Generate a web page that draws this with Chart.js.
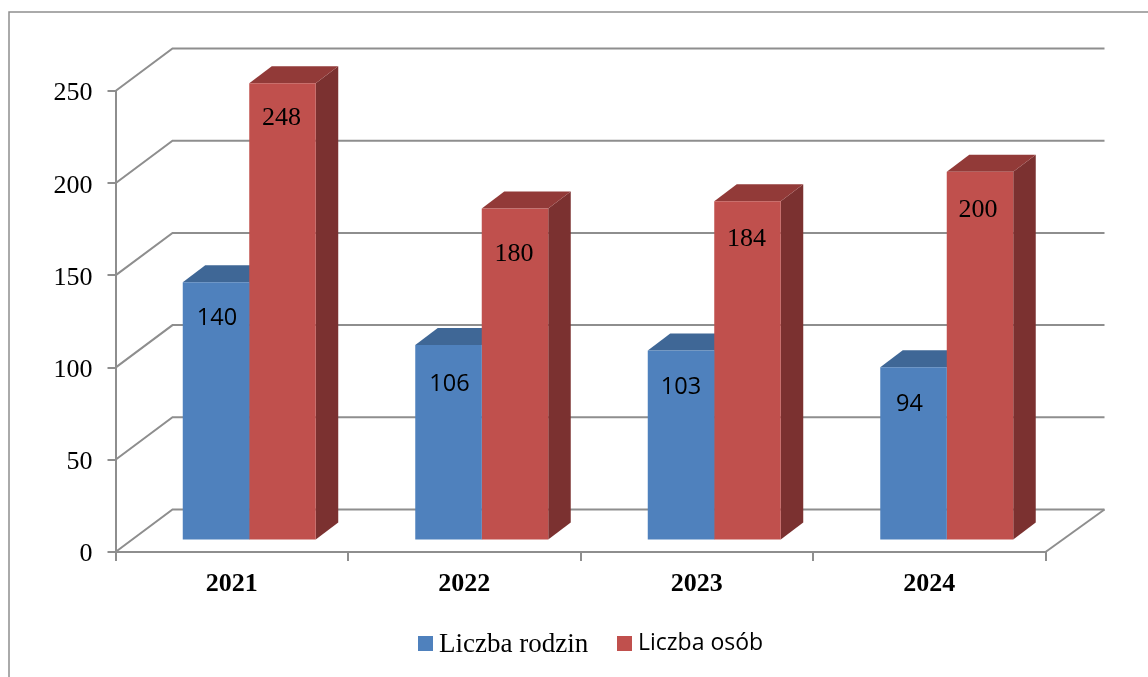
<!DOCTYPE html>
<html>
<head>
<meta charset="utf-8">
<title>Liczba rodzin i osób</title>
<script src="https://cdn.jsdelivr.net/npm/chart.js@4/dist/chart.umd.min.js"></script>
<style>
  html, body { margin: 0; padding: 0; background: #fff; overflow: hidden; }
  canvas { display: block; }
</style>
</head>
<body>
<canvas id="myChart" width="1148" height="677"></canvas>
<script>
// dane
const lata = ["2021", "2022", "2023", "2024"];
const liczbaRodzin = [140, 106, 103, 94];
const liczbaOsob = [248, 180, 184, 200];
const tickiY = [0, 50, 100, 150, 200, 250];

const SERIF = "'Liberation Serif', serif";
const SANS = "'Open Sans', sans-serif";
const szary = "#8e8e8e";

// przesuniecia "3D"
const sciana = { dx: 57, dy: 42.5 };
const slupek = { dx: 17.5, dy: 11.5, bokX: 22.5, bokY: 17 };

// kolory i czcionki kazdej serii (w oryginale etykiety i legenda maja rozne czcionki)
const wyglad = [
  { przod: "#4f81bd", bok: "#3a5f8c", gora: "#3f6796", etykieta: "23.5px " + SANS, legenda: "27px " + SERIF },
  { przod: "#c0504d", bok: "#7b3130", gora: "#923a38", etykieta: "26px " + SERIF, legenda: "23px " + SANS },
];
// gdzie stoi etykieta wzgledem gory slupka (jak w oryginale)
const etykietaX = [[1, 1, 0, -4], [-1, -1, -1, -2]];
const etykietaY = [[36, 39, 37, 37], [35, 46, 38, 38]];

function linia(ctx, punkty) {
  ctx.beginPath();
  punkty.forEach((p, i) => (i == 0 ? ctx.moveTo(p[0], p[1]) : ctx.lineTo(p[0], p[1])));
  ctx.stroke();
}

function wielokat(ctx, punkty, kolor) {
  ctx.fillStyle = kolor;
  ctx.beginPath();
  punkty.forEach((p, i) => (i == 0 ? ctx.moveTo(p[0], p[1]) : ctx.lineTo(p[0], p[1])));
  ctx.closePath();
  ctx.fill();
}

// opisy osi Y stoja troche nizej niz srodek kreski
function przesunOpisy(s, o) {
  if (s.przesuniete) return;
  s.przesuniete = true;
  const rysuj = s.drawLabels;
  s.drawLabels = function (a) {
    this.ctx.save();
    this.ctx.translate(0, o);
    rysuj.call(this, a);
    this.ctx.restore();
  };
}

const ramka3d = {
  id: "ramka3d",
  beforeDraw(chart) {
    const ctx = chart.ctx;
    const y = chart.scales.y;
    const a = chart.chartArea;
    ctx.save();
    ctx.strokeStyle = szary;
    // ramka calego wykresu
    ctx.lineWidth = 1.5;
    linia(ctx, [[9, 677], [9, 12], [1148, 12]]);
    // linie siatki na tylnej scianie i na boku
    ctx.lineWidth = 2;
    tickiY.forEach((t) => {
      const py = y.getPixelForValue(t);
      linia(ctx, [[a.left, py], [a.left + sciana.dx, py - sciana.dy], [a.right + sciana.dx + 2, py - sciana.dy]]);
    });
    // podloga
    const y0 = y.getPixelForValue(0);
    linia(ctx, [[a.right + sciana.dx + 2, y0 - sciana.dy], [a.right, y0]]);
    ctx.restore();
  },
  beforeDatasetsDraw(chart) {
    const ctx = chart.ctx;
    // boki i gory rysowane pod przodem slupkow
    ctx.save();
    ctx.translate(slupek.dx, -slupek.dy);
    chart.data.datasets.forEach((ds, i) => {
      chart.getDatasetMeta(i).data.forEach((bar) => {
        const l = bar.x - bar.width / 2;
        const r = bar.x + bar.width / 2;
        const bx = slupek.bokX;
        const by = slupek.bokY;
        wielokat(ctx, [[r, bar.y], [r + bx, bar.y - by], [r + bx, bar.base - by], [r, bar.base]], wyglad[i].bok);
        wielokat(ctx, [[l, bar.y], [l + bx, bar.y - by], [r + bx, bar.y - by], [r, bar.y]], wyglad[i].gora);
      });
    });
  },
  afterDatasetsDraw(chart) {
    const ctx = chart.ctx;
    ctx.textAlign = "center";
    ctx.textBaseline = "middle";
    ctx.fillStyle = "#000";
    chart.data.datasets.forEach((ds, i) => {
      ctx.font = wyglad[i].etykieta;
      chart.getDatasetMeta(i).data.forEach((bar, j) => {
        ctx.fillText(ds.data[j], bar.x + etykietaX[i][j], bar.y + etykietaY[i][j]);
      });
    });
    ctx.restore();
  },
  afterDraw(chart) {
    // legenda: kazda pozycja ma inna czcionke, wiec rysowana tutaj
    const ctx = chart.ctx;
    const pozycje = [418, 617];
    ctx.save();
    ctx.textAlign = "left";
    ctx.textBaseline = "middle";
    chart.data.datasets.forEach((ds, i) => {
      ctx.fillStyle = wyglad[i].przod;
      ctx.fillRect(pozycje[i], 636, 15, 15);
      ctx.fillStyle = "#000";
      ctx.font = wyglad[i].legenda;
      ctx.fillText(ds.label, pozycje[i] + 21, i == 0 ? 645 : 643);
    });
    ctx.restore();
  },
};

let ctx = document.getElementById("myChart");
let grafico = new Chart(ctx, {
  type: "bar",
  data: {
    labels: lata,
    datasets: [
      { label: "Liczba rodzin", data: liczbaRodzin, backgroundColor: wyglad[0].przod, clip: false },
      { label: "Liczba osób", data: liczbaOsob, backgroundColor: wyglad[1].przod, clip: false },
    ],
  },
  plugins: [ramka3d],
  options: {
    responsive: false,
    animation: false,
    categoryPercentage: 0.572,
    barPercentage: 1,
    layout: { padding: { top: 91, right: 102.5, left: 0, bottom: 0 } },
    plugins: { legend: { display: false }, tooltip: { enabled: false } },
    scales: {
      x: {
        afterFit(s) { s.height = 125; },
        border: { color: szary, width: 2 },
        grid: { drawOnChartArea: false, color: szary, lineWidth: 2, tickLength: 9 },
        ticks: { color: "#000", font: { family: SERIF, size: 26, weight: "bold" }, padding: 8, maxRotation: 0 },
      },
      y: {
        min: 0,
        max: 250,
        afterFit(s) { s.width = 115.5; przesunOpisy(s, 2.5); },
        afterBuildTicks(s) { s.ticks = tickiY.map((v) => ({ value: v })); },
        border: { color: szary, width: 2 },
        grid: { drawOnChartArea: false, color: szary, lineWidth: 2, tickLength: 8 },
        ticks: { color: "#000", font: { family: SERIF, size: 26 }, padding: 15 },
      },
    },
  },
});
</script>
</body>
</html>
